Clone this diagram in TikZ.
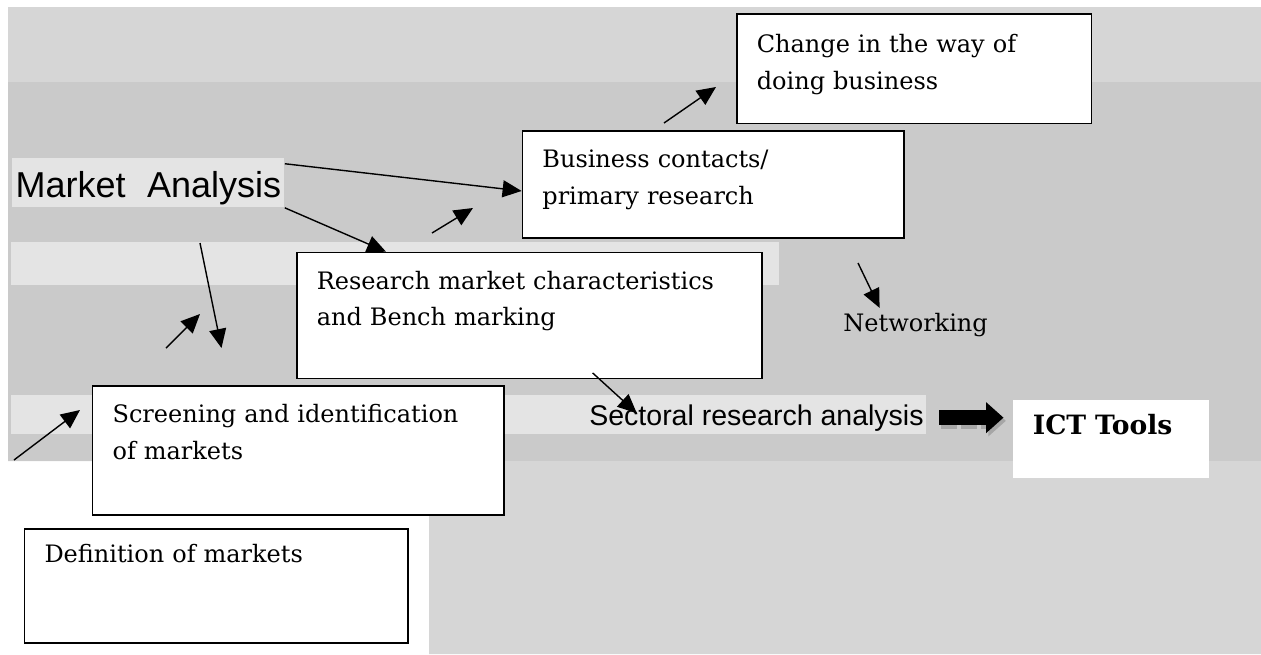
\documentclass[tikz,border=0pt]{standalone}
\usepackage{fontspec}
\setmainfont{DejaVu Serif}
\setsansfont{Liberation Sans}
\usetikzlibrary{arrows.meta}
\definecolor{bandlight}{RGB}{214,214,214}
\definecolor{banddark}{RGB}{202,202,202}
\definecolor{strip}{RGB}{228,228,228}

\begin{document}
\begin{tikzpicture}[x=0.5pt, y=-0.5pt,
			box/.style={draw, line width=0.8pt, fill=white, anchor=north west, align=left,
				inner xsep=10pt, inner ysep=0pt, text height=18.35pt,
				font=\fontsize{12}{18.35}\selectfont},
			arrow/.style={-{Triangle[length=9.5pt,width=8.5pt]}, line width=0.7pt},
			fatarrow/.style={-{Triangle[length=8.75pt,width=15pt]}, line width=7.8pt}
			]
			
			% Background
			\fill[white] (0,0) rectangle (1261,654);
			\useasboundingbox (0,0) rectangle (1261,654);
			\fill[bandlight] (8,7) -- (1261,7) -- (1261,654) -- (429,654) -- (429,461) -- (8,461) -- cycle;
			\fill[banddark] (8,82) rectangle (1261,461);
			\fill[strip] (11,242) rectangle (779,285);
			\fill[strip] (11,395) rectangle (926,434);
			
			% Nodes
			\node[box, text width=157.35pt, text height=19.2pt, text depth=35.5pt] (change) at (736,13.3) {Change in the way of\\doing business};
			\node[box, text width=170.7pt, text depth=35.15pt] (contacts) at (521.6,130) {Business contacts/\\primary research};
			\node[box, text width=212.5pt, text depth=44.65pt] (research) at (296,251.7) {Research market characteristics\\and Bench marking};
			\node[box, text width=185.55pt, text depth=46.15pt] (screening) at (91.8,385) {Screening and identification\\of markets};
			\node[box, text width=171.65pt, text height=16.85pt, text depth=40.15pt] (definition) at (23.7,528) {Definition of markets};
			\node[box, draw=none, text width=78pt, text height=17.5pt, text depth=21.5pt,
				font=\bfseries\fontsize{13.3}{16}\selectfont] (ict) at (1012,399) {ICT Tools};
			
			\node[fill=strip, anchor=north west, minimum width=136pt, inner xsep=0pt, inner ysep=0pt,
				text height=19.35pt, text depth=5.15pt, font=\sffamily\fontsize{18}{20}\selectfont] (ma) at (12,158) {Market\hspace{0.6em}Analysis};
			\node[anchor=base east, inner sep=0pt, font=\sffamily\fontsize{14.25}{16}\selectfont] (sector) at (924,425) {Sectoral research analysis};
			\node[anchor=base west, inner sep=0pt, font=\fontsize{12}{14}\selectfont] (net) at (843,331) {Networking};
			
			% Loose ends
			\coordinate (c1) at (432,233);
			\coordinate (c2) at (473,208);
			\coordinate (c3) at (664,123);
			\coordinate (c4) at (716,87);
			\coordinate (c5) at (200,243);
			\coordinate (c6) at (221.5,348);
			\coordinate (c7) at (166,348);
			\coordinate (c8) at (200,314);
			\coordinate (c9) at (14,460);
			\coordinate (c10) at (80,410);
			\coordinate (c11) at (858,263);
			
			% From Market Analysis
			\draw[arrow] (ma.8) -- (contacts.182.5);
			\draw[arrow] (ma.south east) -- (research.156);
			
			% Small arrows
			\draw[arrow] (c1) -- (c2);
			\draw[arrow] (c3) -- (c4);
			\draw[arrow] (c5) -- (c6);
			\draw[arrow] (c7) -- (c8);
			\draw[arrow] (c9) -- (c10);
			\draw[arrow] (c11) -- ([shift={(18.3pt,2.25pt)}]net.north west);
			
			% Towards ICT Tools
			\draw[arrow] ([shift={(31.65pt,3.2pt)}]research.south) -- ([shift={(23.9pt,-4.6pt)}]sector.north west);
			\draw[fatarrow, gray!70, dotted, transform canvas={xshift=1.2pt,yshift=-1.6pt}] ([xshift=7.5pt]sector.east) -- ([xshift=-4.25pt]sector.east -| ict.west);
			\draw[fatarrow] ([xshift=7.5pt]sector.east) -- ([xshift=-4.25pt]sector.east -| ict.west);
		\end{tikzpicture}
\end{document}
